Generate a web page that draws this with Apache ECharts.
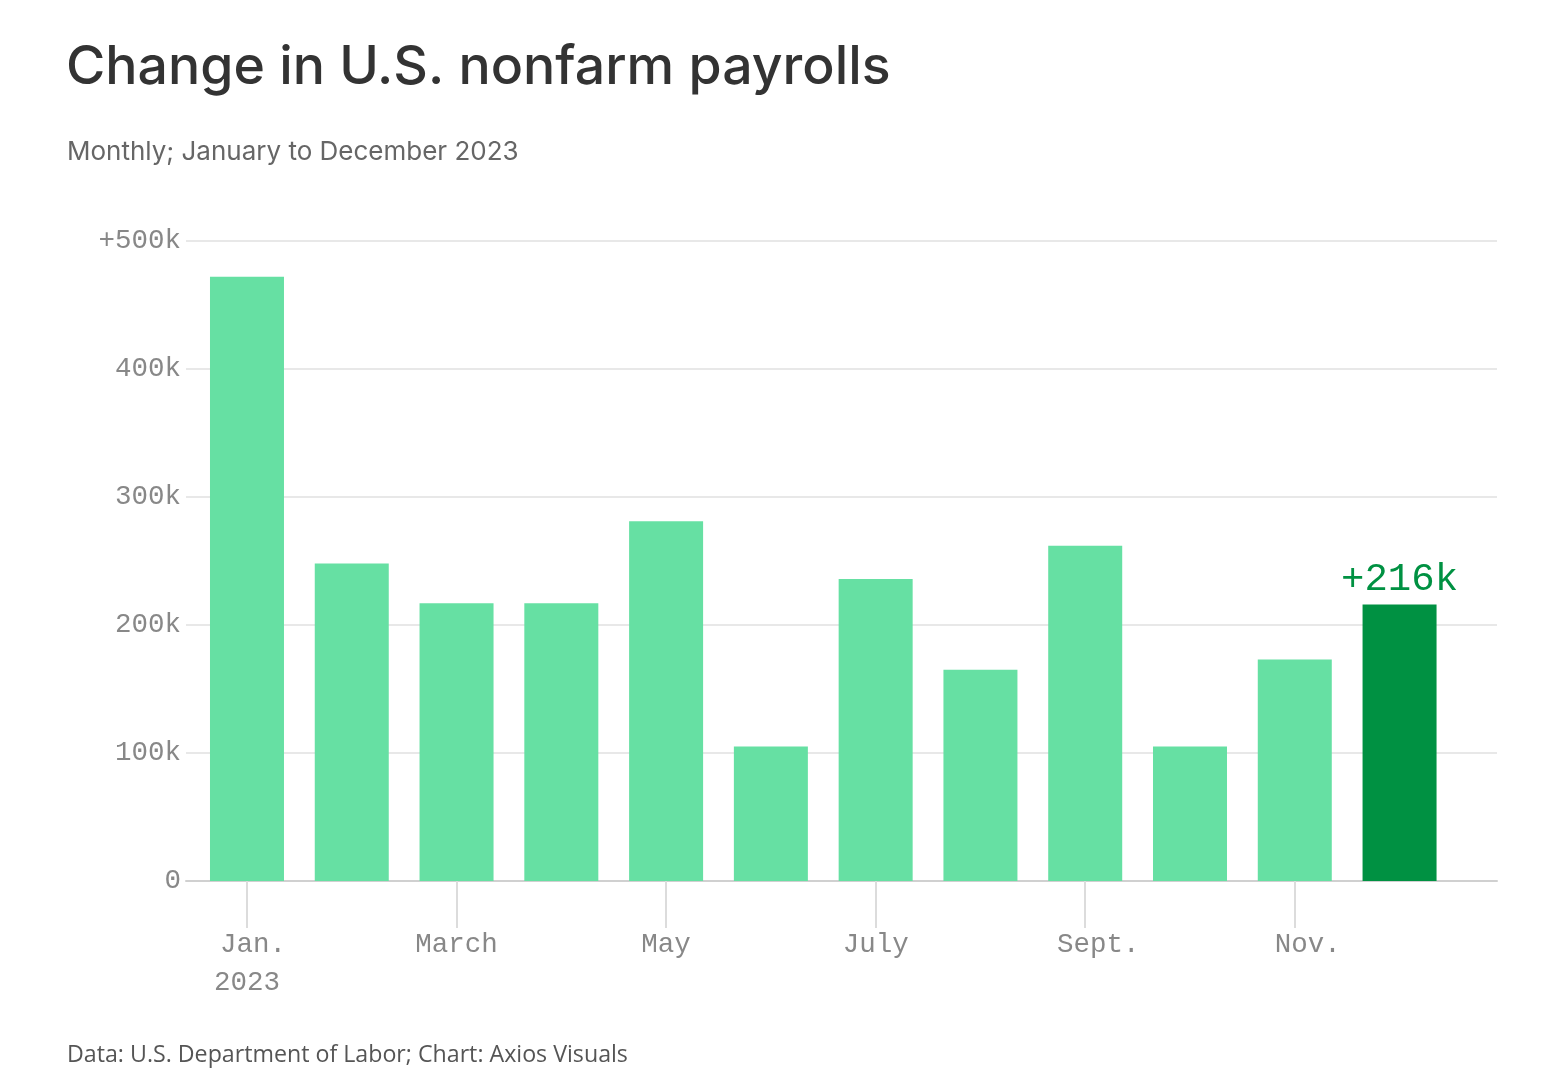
<!DOCTYPE html>
<html>
<head>
<meta charset="utf-8">
<script src="https://cdn.jsdelivr.net/npm/echarts@6/dist/echarts.min.js"></script>
<style>
html,body{margin:0;padding:0;background:#fff;}
#chart{width:1545px;height:1078px;}
</style>
</head>
<body>
<div id="chart"></div>
<script>
const months = ["Jan.","Feb.","March","April","May","June","July","Aug.","Sept.","Oct.","Nov.","Dec."];
const values = [472, 248, 217, 217, 281, 105, 236, 165, 262, 105, 173, 216];
const tickPositions = [0, 2, 4, 6, 8, 10];
const tickLabels = ["Jan.\n2023", "March", "May", "July", "Sept.", "Nov."];
const yTicks = [0, 100, 200, 300, 400, 500];
const highlightLabel = "+216k";

const chart = echarts.init(document.getElementById('chart'));
const mono = '"Liberation Mono", "DejaVu Sans Mono", monospace';
const data = values.map((v, i) => ({
  value: [i, v],
  itemStyle: { color: i === values.length - 1 ? '#009142' : '#66e0a3' },
  label: i === values.length - 1 ? {
    show: true, position: 'top', distance: 5,
    formatter: highlightLabel, color: '#009142', fontFamily: mono, fontSize: 39
  } : { show: false }
}));

function fmtX(v) {
  const t = tickLabels[tickPositions.indexOf(Math.round(v))] || '';
  const lines = t.split('\n');
  return lines.map(line => {
    if (!line.endsWith('.')) return '{n|' + line + '}';
    return (lines.length > 1 ? '{j|' : '{d|') + line + '}';
  }).join('\n');
}
const labelBase = { fontFamily: mono, fontSize: 27.5, color: '#888', lineHeight: 38 };

chart.setOption({
  backgroundColor: '#fff',
  animation: false,
  title: [
    { text: 'Change in U.S. nonfarm payrolls', left: 61, top: 36,
      textStyle: { fontFamily: 'Inter', fontSize: 53.6, fontWeight: 500, color: '#333' } },
    { text: 'Monthly; January to December 2023', left: 62, top: 134,
      textStyle: { fontFamily: 'Inter', fontSize: 26, fontWeight: 400, color: '#666' } },
    { text: 'Data: U.S. Department of Labor; Chart: Axios Visuals', left: 62, top: 1039,
      textStyle: { fontFamily: '"Open Sans"', fontSize: 23.2, fontWeight: 400, color: '#555' } }
  ],
  grid: { left: 186, right: 48, top: 241, bottom: 197, containLabel: false },
  xAxis: {
    type: 'value', min: -0.582, max: 11.93,
    splitLine: { show: false },
    axisLine: { show: true, lineStyle: { color: '#d0d0d0', width: 2 } },
    axisTick: { show: true, customValues: tickPositions, length: 47, lineStyle: { color: '#dcdcdc', width: 2 } },
    axisLabel: Object.assign({
      customValues: tickPositions,
      formatter: fmtX,
      margin: 45,
      rich: {
        d: Object.assign({ padding: [0, 0, 0, 26] }, labelBase),
        j: Object.assign({ padding: [0, 0, 0, 12] }, labelBase),
        n: Object.assign({}, labelBase)
      }
    }, labelBase)
  },
  yAxis: {
    type: 'value', min: 0, max: 500, interval: 100,
    axisLine: { show: false }, axisTick: { show: false },
    splitLine: { lineStyle: { color: '#e0e0e0', width: 1.5 } },
    axisLabel: {
      formatter: v => v === 0 ? '0' : (v === 500 ? '+' : '') + v + 'k',
      margin: 5, fontFamily: mono, fontSize: 27.5, color: '#888'
    }
  },
  series: [{
    type: 'bar', data: data, barWidth: 74
  }]
});
</script>
</body>
</html>
